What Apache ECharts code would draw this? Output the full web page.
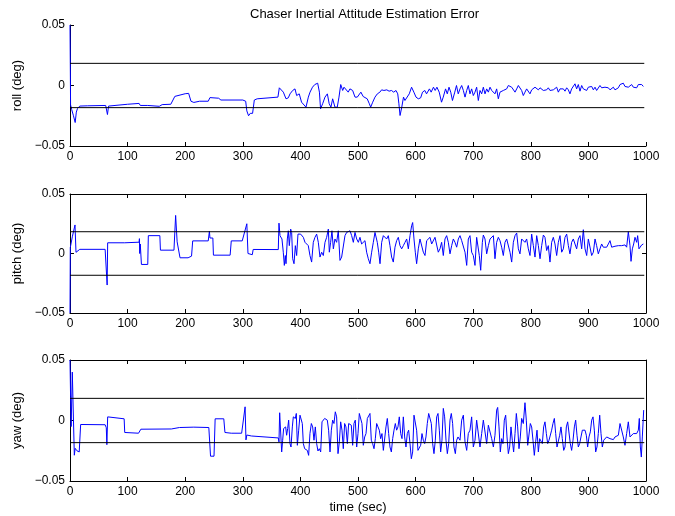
<!DOCTYPE html>
<html><head><meta charset="utf-8">
<script src="https://cdn.jsdelivr.net/npm/echarts@6/dist/echarts.min.js"></script>
<style>html,body{margin:0;padding:0;background:#fff}#c{width:675px;height:516px}</style>
</head><body><div id="c"></div>
<script>
const titleText = 'Chaser Inertial Attitude Estimation Error';
const yNames = ['roll (deg)', 'pitch (deg)', 'yaw (deg)'];
const xName = 'time (sec)';
const xMin = 0, xMax = 1000, xStep = 100;
const yMin = -0.05, yMax = 0.05, yStep = 0.05;
const boundT = [0, 997];
const boundLevel = 0.0183;

const rollData = [
[0,0.05],[0.5,0.018],[1,-0.016],[3,-0.02],[6,-0.025],[9,-0.0306],[11,-0.022],[13,-0.019],[17,-0.017],[30,-0.0168],[62,-0.0165],[65,-0.024],[67,-0.017],[70,-0.0155],[100,-0.0155],[120,-0.0148],[122,-0.0165],[135,-0.0165],[137,-0.0175],[155,-0.0172],[160,-0.0158],[175,-0.0155],[178,-0.0143],[182,-0.009],[185,-0.0075],[200,-0.0068],[206,-0.0065],[210,-0.013],[215,-0.014],[225,-0.013],[240,-0.013],[243,-0.010],[258,-0.0105],[262,-0.012],[300,-0.012],[305,-0.013],[307,-0.021],[310,-0.025],[313,-0.023],[317,-0.023],[320,-0.012],[325,-0.011],[361,-0.0096],
[363.4,-0.0019],[370.4,-0.0055],[375,-0.011],[379,-0.0102],[382,-0.0069],[386.6,-0.0041],[390.6,-0.0028],[393.5,-0.0083],[398,-0.0069],[402,-0.0138],[405,-0.0124],[409.7,-0.0179],[413.8,-0.0096],[416.7,-0.0055],[421,-0.0014],[425,0.0008],[430,0.0019],[433,-0.0055],[435,-0.0193],[438.6,-0.0151],[442.7,-0.0096],[446.8,-0.0069],[450,-0.0151],[453,-0.0179],[456,-0.011],[460,-0.0179],[464,-0.0179],[467,-0.0096],[470,0.0008],[473.4,-0.0041],[475.7,-0.0014],[479,0],[483,-0.0055],[486,-0.0028],[490.7,-0.0041],[494.8,-0.0096],[498.8,-0.0096],[502,-0.0083],[505,-0.0055],[509,-0.0091],[512,-0.0102],[516,-0.011],[519.7,-0.0151],[522,-0.0179],[525.5,-0.0138],[529.5,-0.0096],[533.6,-0.0069],[538,-0.0055],[541,-0.0036],[545,-0.0041],[550,-0.0036],[554,-0.0047],[558,-0.0041],[562,-0.0055],[566,-0.0041],[569,-0.0069],[571,-0.0151],[573,-0.0248],[576,-0.0179],[579,-0.0096],[581.5,-0.0124],[584,-0.011],[589,-0.0069],[593,-0.0014],[597,-0.0055],[600.7,-0.0096],[604.7,-0.011],[608.8,-0.0102],[612,-0.0055],[616,-0.0041],[619,-0.0069],[624,-0.0028],[627,-0.0055],[631,-0.0014],[634,-0.0041],[637,-0.0014],[641,-0.0055],[645,-0.0138],[648,-0.0096],[652,-0.0028],[655,-0.0069],[658,-0.0014],[661,-0.0055],[664,-0.0124],[668,-0.0055],[671,0],[674,-0.0069],
[677.1,-0.0028],[680,0],[682.9,-0.0041],[685.8,-0.0096],[688.7,-0.0041],[691.5,0],[694.4,-0.0069],[697.3,-0.0028],[700.2,-0.0083],[703.1,-0.0055],[706,-0.0014],[708.9,-0.0124],[711.8,-0.0041],[714.7,-0.0069],[717.6,-0.0014],[720.5,-0.0069],[723.4,-0.0028],[726.3,-0.0055],[729.2,-0.0014],[732.1,-0.0041],[735,-0.0028],[737.8,-0.0069],[740.7,-0.0028],[743.6,-0.011],[746.5,-0.0055],[749.4,-0.0069],[752.3,-0.0041],[755.2,-0.0055],[758.1,-0.0028],[761,0],[763.9,0.0008],[766.8,-0.0014],[769.7,-0.0028],[772.6,-0.0055],[775.5,-0.0028],[778.4,0],[781.2,-0.0014],[784.1,-0.0041],[787,-0.0083],[789.9,-0.0055],[792.8,-0.0028],[795.7,-0.0041],[798.6,-0.0069],[801.5,-0.0036],[804.4,-0.0028],[807.3,-0.0014],[810.2,-0.0008],[813.1,-0.0036],[816,-0.0019],[818.9,-0.0028],[821.8,-0.0041],[824.6,-0.0028],[827.5,-0.0036],[830.4,-0.0019],[833.3,-0.0041],[836.2,-0.0028],[839.1,-0.0036],[842,-0.0028],[844.9,-0.0014],[847.8,-0.0055],[850.7,-0.0028],[853.6,-0.0041],[856.5,-0.0028],[859.4,-0.0047],[862.3,-0.0019],[865.2,-0.0036],[868,-0.0069],[870.9,-0.0028],[873.8,-0.0041],[876.7,0.0014],[879.6,-0.0028],[882.5,0.0008],[885.4,-0.0047],[888.3,0],[891.2,-0.0028],[894.1,-0.0014],[897,-0.0041],[899.9,-0.0014],[902.8,-0.0028],[905.7,-0.0008],[908.6,-0.0036],[911.5,-0.0014],[914.3,-0.0041],[917.2,-0.0028],[920.1,0],[923,-0.0019],[925.9,-0.0014],[928.8,-0.0014],[931.7,-0.0028],[934.6,-0.0019],[937.5,-0.0036],[940.4,-0.0028],[943.3,-0.0014],[946.2,-0.0036],[949.1,-0.0036],[952,-0.0019],[954.9,0.0008],[957.8,0],[960.6,0.0019],[963.5,-0.0008],[966.4,0],[969.3,-0.0014],[972.2,-0.0008],[975.1,0.0008],[978,-0.0014],[980.9,0],[983.8,-0.0019],[986.7,0.0008],[989.6,-0.0008],[992.5,0.0008],[995.4,-0.0008]
];

const pitchData = [
[0,-0.05],[0.5,0.005],[4,0.014],[8.7,0.024],[10.4,0.001],[12,0.001],[13,0.0025],[17,0.0035],[61,0.0035],[64.5,-0.0265],[65.4,0.009],[95,0.009],[96,0.0095],[120,0.0095],[120.5,0.0125],[121,0.0],[122,0.008],[124,-0.0092],[135,-0.0092],[136,0.015],[156,0.015],[157,0.0028],[180.5,0.0028],[183.4,0.032],[186,0.0098],[191,-0.0036],[205,-0.0036],[211,-0.0022],[213,0.0106],[240,0.0106],[242,0.0187],[243,0.013],[248,0.013],[249,-0.0014],[278,-0.0014],[280,0.0106],[299,0.0106],[307,0.025],[309,0.0],[316.5,-0.001],[318,0.0034],[361.6,0.0033],
[362.8,0.0255],[364.6,0.015],[366.3,0.0163],[368,0.0122],[370.3,0.0011],[372.1,-0.010],[373.8,-0.0017],[375,-0.0086],[377.3,0.0122],[379,0.0191],[380.8,0.0066],[383.1,0.0205],[384.8,0.0177],[386.6,-0.0044],[388.9,-0.0086],[391.2,0.0066],[393.5,-0.0017],[395.8,0.0163],[398.1,0.0177],[400.4,0.0163],[402.8,0.015],[405.1,0.0136],[408,0.0094],[410.9,0.008],[413.7,0.0066],[416.6,-0.0017],[419.5,-0.0072],[422.4,0.0094],[425.3,0.0136],[428.2,0.0163],[431.1,0.0094],[434,-0.003],[436.9,0.0011],[439.8,-0.0017],[442.7,0.0094],[445.6,0.0136],[448.5,0.0205],[450.2,0.0011],[452.5,0.0094],[454.8,0.0191],[457.2,0.0039],[460,0.0122],[462.9,0.0094],[465.8,0.0191],[468.7,-0.0058],[471.6,-0.003],[474.5,-0.0044],[477.4,0.015],[480.3,0.0177],[483.2,0.0177],[486.1,0.0191],[489,0.015],[491.9,0.0094],[494.8,0.0177],[497.7,0.0122],[500.6,0.0094],[503.4,0.0136],[506.3,0.008],[509.2,0.0066],[512.1,0.0108],[515,0.0011],[517.9,-0.0044],[520.8,-0.0086],[523.7,0.0011],[526.6,0.0094],[529.5,0.0177],[531.2,0.0191],[533.5,0.0094],[535.9,0.0011],[538.2,-0.0086],[541.1,0.0094],[544,0.015],[546.9,0.0136],[549.7,0.0122],[552.6,0.015],[555.5,0.0066],[558.4,-0.003],[561.3,-0.0072],[564.2,0.0053],[567.1,0.0108],[570,0.0136],[572.9,0.0066],[575.8,0.0039],[578.7,0.0066],[581.6,0.0094],[584.5,0.0122],[587.4,0.0039],[590.3,0.015],[593.1,0.0233],[594.9,0.026],[597.2,0.0122],[599.5,0.0011],[601.8,-0.0086],[604.7,0.0039],[607.6,0.0122],[610.5,0.0136],[613.4,0.0011],[616.3,-0.0017],[619.2,0.0108],[622.1,0.0122],[625,0.0136],[627.9,0.008],[630.8,0.0094],[633.7,0.0136],[636.6,0.0122],[639.4,0.0011],[642.3,0.0039],[645.2,0.0094],[648.1,-0.0017],[651,0.0122],[653.9,0.015],[656.8,0.0094],[659.7,-0.0003],[662.6,0.0066],[665.5,0.0122],[668.4,0.0094],[671.3,0.0053],[674.2,0.0122],
[677.1,0.015],[680,0.0108],[682.9,0.0122],[685.8,0.0011],[688.7,-0.010],[691.5,0.0122],[694.4,0.015],[697.3,0.0011],[700.2,-0.0017],[703.1,-0.010],[706,0.0136],[708.9,0.015],[710.6,-0.0017],[713,-0.0141],[715.9,0.0094],[717.6,0.0155],[720.5,0.0122],[723.4,-0.0003],[726.3,0.0066],[729.2,0.0122],[732.1,0.0122],[735,0.015],[737.8,-0.0044],[740.7,0.0094],[743.6,0.0136],[746.5,0.0108],[749.4,0.0053],[752.3,-0.0017],[755.2,0.0094],[758.1,0.0122],[761,0.0136],[763.9,0.0011],[766.8,-0.0072],[769.7,0.0094],[772.6,0.015],[775.5,0.0172],[778.4,0.0039],[781.2,-0.0003],[784.1,0.0122],[787,0.0136],[789.9,0.0094],[792.8,0.0122],[795.7,0.0039],[798.6,-0.0017],[801.5,0.0163],[804.4,0.0066],[807.3,-0.003],[810.2,0.015],[813.1,0.0066],[816,-0.0044],[818.9,0.0066],[821.8,0.0155],[824.6,0.0136],[827.5,0.0025],[830.4,0.0066],[833.3,-0.0072],[836.2,0.0094],[839.1,0.0136],[842,0.008],[844.9,-0.0017],[847.8,0.0094],[850.7,0.015],[853.6,0.0011],[856.5,0.0039],[859.4,0.0136],[862.3,0.0163],[865.2,0.0066],[868,-0.0003],[870.9,0.0094],[873.8,0.0122],[876.7,0.0108],[879.6,0.0039],[882.5,0.0122],[885.4,0.015],[888.3,0.0039],[891.2,0.020],[894.1,0.0039],[897,-0.0017],[899.9,0.0122],[902.8,0.0136],[905.7,-0.0017],[908.6,0.0011],[911.5,0.0122],[914.3,0.0066],[917.2,-0.0003],[920.1,0.0039],[923,0.008],[925.9,0.0053],[928.8,0.0039],[931.7,0.0053],[934.6,0.008],[937.5,0.0108],[940.4,0.0053],[943.3,0.0053],[946.2,0.0061],[949.1,0.0053],[952,0.0066],[954.9,0.0053],[957.8,0.0066],[960.6,0.0053],[963.5,0.0072],[966.4,0.0053],[969.3,0.0183],[972.2,0.0066],[974,-0.0066],[976.3,0.0039],[978.6,0.008],[980.9,0.0136],[983.8,0.0094],[985.5,0.015],[987.8,0.0039],[990.2,0.0053],[992.5,0.0072],[995.4,0.008]
];

const yawData = [
[0,0.05],[1,0.02],[2,-0.005],[4,0.040],[7.5,-0.0287],[9,-0.023],[12,-0.025],[16,-0.026],[18.5,-0.0033],[61,-0.0035],[63,-0.006],[64,-0.020],[65.4,0.003],[67,0.0014],[94,0.0014],[95,-0.0099],[119,-0.0105],[123,-0.0072],[176,-0.007],[190,-0.0058],[215,-0.0055],[241,-0.0058],[244,-0.0295],[250,-0.0295],[252,0.0014],[267,0.0014],[269,-0.0099],[280,-0.0105],[298,-0.0105],[304,0.0113],[305.5,-0.016],[307,-0.012],[315,-0.0128],[318,-0.014],[361.6,-0.0144],
[362.8,-0.0177],[364,0.0064],[365.7,0.0058],[367.5,-0.026],[369.2,-0.0163],[370.9,-0.0066],[372.7,-0.008],[374.4,-0.0053],[376.1,-0.0122],[377.9,-0.0066],[379.6,0.0003],[381.9,-0.0191],[383.7,-0.0219],[386,-0.0053],[387.7,0.003],[389.4,0.0044],[391.2,0.0017],[392.9,0.0058],[394.7,-0.0205],[397,-0.008],[399.3,0.0044],[401.6,0.0058],[403.3,-0.0025],[405.1,-0.0191],[407.4,-0.0233],[409.7,-0.0233],[412,-0.0247],[414.3,-0.0288],[416.6,-0.0108],[419,-0.0025],[421.3,-0.0053],[423.6,-0.0163],[425.9,-0.0053],[428.2,-0.0191],[430.5,-0.0252],[432.8,-0.0233],[435.2,-0.026],[437.5,-0.0011],[439.8,0.0003],[442.1,0.0017],[444.4,0.0003],[446.7,0.0003],[449,-0.008],[451.4,-0.026],[453.7,-0.008],[456,0.0003],[458.3,-0.0025],[460.6,0.0072],[462.9,0.003],[465.3,-0.0274],[467.6,-0.0177],[469.9,-0.0011],[472.2,-0.008],[474.5,-0.0233],[476.8,-0.0025],[479.1,-0.0053],[481.5,-0.0191],[483.8,-0.0025],[486.1,-0.0025],[488.4,-0.0039],[490.7,-0.0205],[493,-0.0025],[495.3,0.0003],[497.7,-0.0219],[500,-0.0108],[502.3,0.0058],[504.6,0.0072],[506.9,-0.0025],[509.2,-0.0205],[511.6,-0.0136],[513.9,-0.0108],[516.2,0.0017],[518.5,0.003],[520.8,0.0058],[523.1,-0.0163],[525.4,-0.0191],[527.8,-0.0233],[530.1,-0.015],[532.4,-0.0025],[534.7,-0.0053],[537,-0.008],[539.3,-0.015],[541.6,-0.0108],[544,-0.0247],[546.3,-0.0247],[548.6,-0.0053],[550.9,0.0017],[553.2,-0.0108],[555.5,-0.0219],[557.9,-0.026],[560.2,-0.015],[562.5,-0.008],[564.8,-0.0025],[567.1,-0.008],[569.4,-0.0053],[571.7,0.003],[574.1,-0.0108],[576.4,-0.015],[578.7,0.003],[581,-0.0136],[583.3,-0.0219],[585.6,-0.0108],[587.9,-0.008],[590.3,-0.0191],[592.6,-0.0316],[594.9,-0.026],[597.2,0.0044],[599.5,0.003],[601.8,-0.008],[604.1,-0.0247],[606.5,-0.026],[608.8,-0.0205],[611.1,-0.0108],[613.4,-0.0163],[615.7,-0.0191],[618,-0.0136],[620.3,-0.0025],[622.7,0.0058],[625,0.0064],[627.3,-0.0025],[629.6,-0.0191],[631.9,-0.0274],[634.2,-0.0163],[636.6,0.003],[638.9,0.0058],[641.2,-0.008],[643.5,-0.026],[645.8,-0.0163],[648.1,0.010],[650.4,0.003],[652.8,-0.0163],[655.1,-0.0274],[657.4,-0.0191],[659.7,0.0003],[662,0.0058],[664.3,-0.0025],[666.6,-0.0219],[669,-0.0274],[671.3,-0.0163],[673.6,-0.0136],
[677.1,-0.0163],[680,0.0003],[682.9,0.0044],[685.8,-0.0177],[688.7,-0.0247],[691.5,-0.0108],[694.4,-0.008],[697.3,0.003],[700.2,-0.0219],[703.1,-0.0163],[706,0.0003],[708.9,-0.0011],[711.8,-0.0219],[714.7,-0.0108],[717.6,0.0003],[720.5,-0.0011],[723.4,-0.0191],[726.3,-0.0039],[729.2,-0.0053],[732.1,-0.015],[735,-0.0219],[737.8,-0.0122],[740.7,0.0086],[742.5,0.0108],[744.8,-0.0053],[747.1,-0.026],[749.4,-0.015],[751.7,-0.0191],[754,0.0003],[756.4,0.0044],[758.7,-0.0136],[761,-0.0274],[763.3,-0.0219],[765.6,-0.0053],[767.9,-0.0163],[770.2,-0.026],[772.6,-0.0108],[774.9,0.0058],[777.2,-0.0053],[779.5,-0.0233],[781.8,-0.0136],[784.1,0.0017],[787,-0.0025],[789.9,0.0147],[792.2,0.0003],[794.6,-0.0205],[796.9,-0.0219],[799.2,-0.0025],[801.5,-0.0053],[803.8,-0.0163],[806.1,-0.0288],[808.4,-0.0177],[810.8,-0.008],[813.1,-0.026],[815.4,-0.015],[817.7,-0.0163],[820,-0.0191],[822.3,-0.0053],[824.6,-0.0011],[827,-0.0108],[829.3,-0.0191],[831.6,-0.0163],[833.9,-0.0177],[836.2,-0.008],[838.5,-0.0025],[840.9,0.0017],[843.2,-0.0108],[845.5,-0.0219],[847.8,-0.0219],[850.1,-0.0122],[852.4,-0.0053],[854.7,-0.015],[857.1,-0.0247],[859.4,-0.0219],[861.7,-0.0053],[864,-0.0011],[866.3,-0.0025],[868.6,-0.0191],[870.9,-0.0247],[873.3,-0.0163],[875.6,-0.0053],[877.9,0.0003],[880.2,-0.0122],[882.5,-0.0219],[884.8,-0.0191],[887.1,-0.0136],[889.5,-0.008],[891.8,-0.0094],[894.1,-0.008],[896.4,-0.0122],[898.7,-0.0219],[901,-0.0136],[903.4,-0.0094],[905.7,0.0003],[908,0.003],[910.3,-0.008],[912.6,-0.026],[914.9,-0.0219],[917.2,-0.0108],[919.6,0.0044],[921.9,-0.0108],[924.2,-0.0219],[926.5,-0.0163],[928.8,-0.015],[931.7,-0.0136],[934.6,-0.0136],[937.5,-0.015],[940.4,-0.015],[943.3,-0.0158],[946.2,-0.0136],[949.1,-0.015],[952,-0.0122],[954.9,-0.0025],[957.8,-0.0011],[960.6,-0.0136],[963.5,-0.0205],[966.4,-0.0108],[969.3,-0.0011],[972.2,-0.0136],[975.1,-0.015],[978,-0.0108],[980.9,-0.0094],[983.8,-0.0108],[986.7,-0.008],[988.4,0.0017],[990.2,-0.0219],[991.9,-0.0302],[993.6,-0.0136],[996,0.0086]
];

const seriesData = [rollData, pitchData, yawData];
const FONT = '"Liberation Sans", Arial, Helvetica, sans-serif';
const grids = [
  {left: 70, right: 29, top: 25, height: 121},
  {left: 70, right: 29, top: 194, height: 119},
  {left: 70, right: 29, top: 360, height: 121}
];
const fmtY = v => Math.abs(v) < 1e-9 ? '0' : (v < 0 ? '\u2212' : '') + Math.abs(v).toFixed(2);
const fmtX = v => String(Math.round(v));
const lineC = '#000';

const xAxes = [], yAxes = [];
for (let i = 0; i < 3; i++) {
  xAxes.push({
    type: 'value', gridIndex: i, min: xMin, max: xMax, interval: xStep, position: 'bottom',
    axisLine: {show: true, onZero: false, lineStyle: {color: lineC, width: 1}},
    axisTick: {show: true, inside: true, length: 4, lineStyle: {color: lineC}},
    axisLabel: {margin: 5, color: '#000', fontSize: 12, fontFamily: FONT, formatter: fmtX},
    splitLine: {show: false},
    name: i === 2 ? xName : '', nameLocation: 'middle', nameGap: 20,
    nameTextStyle: {color: '#000', fontSize: 13, fontFamily: FONT}
  });
  yAxes.push({
    type: 'value', gridIndex: i, min: yMin, max: yMax, interval: yStep, position: 'left',
    axisLine: {show: true, onZero: false, lineStyle: {color: lineC, width: 1}},
    axisTick: {show: true, inside: true, length: 4, lineStyle: {color: lineC}},
    axisLabel: {margin: 5, color: '#000', fontSize: 12, fontFamily: FONT, formatter: fmtY},
    splitLine: {show: false},
    name: yNames[i], nameLocation: 'middle', nameGap: 38,
    nameTextStyle: {color: '#000', fontSize: 13, fontFamily: FONT}
  });
}
for (let i = 1; i < 3; i++) {
  xAxes.push({
    type: 'value', gridIndex: i, min: xMin, max: xMax, interval: xStep, position: 'top',
    axisLine: {show: true, onZero: false, lineStyle: {color: lineC, width: 1}},
    axisTick: {show: true, inside: true, length: 4, lineStyle: {color: lineC}},
    axisLabel: {show: false}, splitLine: {show: false}
  });
  yAxes.push({
    type: 'value', gridIndex: i, min: yMin, max: yMax, interval: yStep, position: 'right',
    axisLine: {show: true, onZero: false, lineStyle: {color: lineC, width: 1}},
    axisTick: {show: true, inside: true, length: 4, lineStyle: {color: lineC}},
    axisLabel: {show: false}, splitLine: {show: false}
  });
}

const series = [];
for (let i = 0; i < 3; i++) {
  series.push({
    type: 'line', xAxisIndex: i, yAxisIndex: i, data: seriesData[i], symbol: 'none',
    lineStyle: {color: '#0000ff', width: 1}, z: 2
  });
  [boundLevel, -boundLevel].forEach(b => series.push({
    type: 'line', xAxisIndex: i, yAxisIndex: i, data: [[boundT[0], b], [boundT[1], b]],
    symbol: 'none', lineStyle: {color: '#000', width: 1}, z: 3
  }));
}

const chart = echarts.init(document.getElementById('c'), null, {renderer: 'canvas'});
chart.setOption({
  animation: false,
  backgroundColor: '#fff',
  title: {text: titleText, left: 245, top: 3,
    textStyle: {fontSize: 13, fontWeight: 'normal', color: '#000', fontFamily: FONT}},
  grid: grids,
  xAxis: xAxes,
  yAxis: yAxes,
  series: series
});
</script></body></html>
